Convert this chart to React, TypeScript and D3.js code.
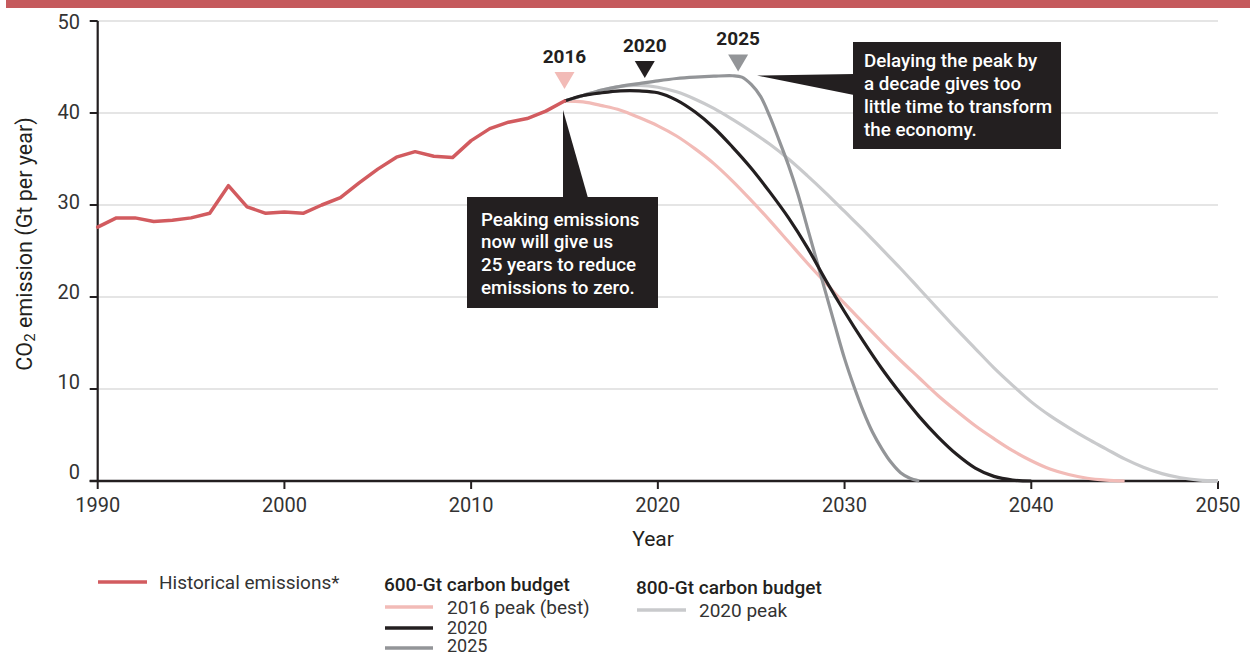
import React from "react";
import * as d3 from "d3";

// ---------- data ----------
const histYears = [1990, 1991, 1992, 1993, 1994, 1995, 1996, 1997, 1998, 1999, 2000, 2001, 2002, 2003, 2004, 2005, 2006, 2007, 2008, 2009, 2010, 2011, 2012, 2013, 2014, 2015];
const histValues = [27.6, 28.6, 28.6, 28.2, 28.35, 28.6, 29.1, 32.1, 29.8, 29.1, 29.25, 29.1, 30.0, 30.8, 32.4, 33.9, 35.2, 35.8, 35.3, 35.15, 37.0, 38.3, 39.0, 39.4, 40.2, 41.3];

const best2016Years = [2015, 2016, 2017, 2018, 2019, 2020, 2021, 2022, 2023, 2024, 2025, 2026, 2027, 2028, 2029, 2030, 2031, 2032, 2033, 2034, 2035, 2036, 2037, 2038, 2039, 2040, 2041, 2042, 2043, 2044, 2045];
const best2016Values = [41.3, 41.2, 40.8, 40.3, 39.5, 38.6, 37.5, 36.1, 34.5, 32.6, 30.5, 28.3, 26.0, 23.7, 21.5, 19.3, 17.2, 15.1, 13.1, 11.2, 9.3, 7.6, 6.0, 4.6, 3.3, 2.2, 1.3, 0.7, 0.3, 0.1, 0.0];

const peak2020Years = [2015, 2016, 2017, 2018, 2019, 2020, 2021, 2022, 2023, 2024, 2025, 2026, 2027, 2028, 2029, 2030, 2031, 2032, 2033, 2034, 2035, 2036, 2037, 2038, 2039, 2040];
const peak2020Values = [41.3, 41.9, 42.2, 42.4, 42.4, 42.2, 41.4, 40.1, 38.4, 36.3, 34.0, 31.4, 28.6, 25.4, 21.8, 18.4, 15.2, 12.2, 9.5, 7.0, 4.8, 2.9, 1.4, 0.5, 0.1, 0.0];

const peak2025Years = [2015, 2016, 2017, 2018, 2019, 2020, 2021, 2022, 2023, 2024, 2024.5, 2025, 2025.5, 2026, 2026.5, 2027, 2027.5, 2028, 2028.5, 2029, 2029.5, 2030, 2030.5, 2031, 2031.5, 2032, 2032.5, 2033, 2033.5, 2034];
const peak2025Values = [41.3, 41.9, 42.5, 42.9, 43.2, 43.5, 43.75, 43.9, 44.0, 44.05, 43.9, 43.1, 41.8, 39.6, 37.0, 34.3, 31.2, 27.6, 24.0, 20.4, 16.8, 13.3, 10.3, 7.6, 5.3, 3.5, 2.0, 0.9, 0.3, 0.0];

const budget800Years = [2015, 2016, 2017, 2018, 2019, 2020, 2021, 2022, 2023, 2024, 2025, 2026, 2027, 2028, 2029, 2030, 2031, 2032, 2033, 2034, 2035, 2036, 2037, 2038, 2039, 2040, 2041, 2042, 2043, 2044, 2045, 2046, 2047, 2048, 2049, 2050];
const budget800Values = [41.3, 41.9, 42.5, 42.9, 43.0, 42.8, 42.3, 41.5, 40.5, 39.3, 38.0, 36.6, 35.0, 33.2, 31.3, 29.3, 27.3, 25.2, 23.1, 20.9, 18.7, 16.5, 14.4, 12.3, 10.4, 8.6, 7.1, 5.8, 4.6, 3.5, 2.4, 1.5, 0.8, 0.35, 0.1, 0.0];

const xTicks = [1990, 2000, 2010, 2020, 2030, 2040, 2050];
const yTicks = [0, 10, 20, 30, 40, 50];

const markerLabels = ["2016", "2020", "2025"];
const markerYears = [2015, 2019.3, 2024.3];
const markerTips = [42.6, 43.8, 44.5];

const note1 = ["Peaking emissions", "now will give us", "25 years to reduce", "emissions to zero."];
const note2 = ["Delaying the peak by", "a decade gives too", "little time to transform", "the economy."];

// ---------- styles ----------
const C_RED = "#d25b5f";
const C_BAR = "#c55a5d";
const C_PINK = "#f2bbb7";
const C_BLACK = "#231f20";
const C_DGRAY = "#939598";
const C_LGRAY = "#c9cacc";
const C_GRID = "#cbcbcb";
const C_TEXT = "#333333";
const FONT = "Roboto, 'Noto Sans', sans-serif";

const W = 1250;
const H = 655;

export default function App() {
  const x = d3.scaleLinear().domain([1990, 2050]).range([97.7, 1218]);
  const y = d3.scaleLinear().domain([0, 50]).range([481, 21]);
  const yLab = d3.scaleLinear().domain([0, 50]).range([472, 22]);

  const zip = (xs: number[], vs: number[]) => xs.map((d, i) => [d, vs[i]] as [number, number]);
  const lineLin = d3.line<[number, number]>().x((d) => x(d[0])).y((d) => y(d[1]));
  const lineSmooth = d3
    .line<[number, number]>()
    .x((d) => x(d[0]))
    .y((d) => y(d[1]))
    .curve(d3.curveCatmullRom.alpha(0.5));

  const series = [
    { data: zip(best2016Years, best2016Values), color: C_PINK },
    { data: zip(budget800Years, budget800Values), color: C_LGRAY },
    { data: zip(peak2025Years, peak2025Values), color: C_DGRAY },
    { data: zip(peak2020Years, peak2020Values), color: C_BLACK },
  ];
  const markerColors = [C_PINK, C_BLACK, C_DGRAY];

  return (
    <svg
      width={W}
      height={H}
      style={{ position: "absolute", left: 0, top: 0, background: "#fff" }}
      fontFamily={FONT}
    >
      <rect x={6} y={0} width={W - 6} height={8} fill={C_BAR} />

      {/* grid */}
      {yTicks.filter((t) => t > 0).map((t) => (
        <line key={"g" + t} x1={x(1990)} x2={x(2050)} y1={y(t)} y2={y(t)} stroke={C_GRID} strokeWidth={1.2} />
      ))}

      {/* y axis */}
      <line x1={x(1990)} x2={x(1990)} y1={y(50)} y2={y(0)} stroke={C_BLACK} strokeWidth={2.2} />
      {yTicks.map((t) => (
        <g key={"y" + t}>
          <line x1={x(1990) - 8} x2={x(1990)} y1={y(t)} y2={y(t)} stroke={C_BLACK} strokeWidth={2} />
          <text x={80} y={yLab(t)} textAnchor="end" dominantBaseline="central" fontSize={20} fill={C_TEXT}>
            {t}
          </text>
        </g>
      ))}

      {/* x axis */}
      <line x1={x(1990) - 8} x2={x(2050)} y1={y(0)} y2={y(0)} stroke={C_BLACK} strokeWidth={2.5} />
      {xTicks.map((t) => (
        <g key={"x" + t}>
          <line x1={x(t)} x2={x(t)} y1={y(0)} y2={y(0) + 8} stroke={C_BLACK} strokeWidth={2} />
          <text x={x(t)} y={505} textAnchor="middle" dominantBaseline="central" fontSize={20} fill={C_TEXT}>
            {t}
          </text>
        </g>
      ))}

      <text x={653} y={539} textAnchor="middle" dominantBaseline="central" fontSize={21} fill={C_BLACK}>
        Year
      </text>
      <text
        transform="translate(24,244) rotate(-90)"
        textAnchor="middle"
        dominantBaseline="central"
        fontSize={21.5}
        fill={C_BLACK}
      >
        CO
        <tspan fontSize={15} dy={6}>2</tspan>
        <tspan dy={-6}> emission (Gt per year)</tspan>
      </text>

      {/* projection lines */}
      {series.map((s, i) => (
        <path key={"s" + i} d={lineSmooth(s.data) || ""} fill="none" stroke={s.color} strokeWidth={3.2} strokeLinejoin="round" />
      ))}
      <path d={lineLin(zip(histYears, histValues)) || ""} fill="none" stroke={C_RED} strokeWidth={3.5} strokeLinejoin="round" strokeLinecap="round" />

      {/* peak markers */}
      {markerLabels.map((lab, i) => {
        const cx = x(markerYears[i]);
        const tip = y(markerTips[i]);
        return (
          <g key={"m" + i}>
            <path d={`M${cx - 10},${tip - 17} L${cx + 10},${tip - 17} L${cx},${tip} Z`} fill={markerColors[i]} />
            <text x={cx} y={tip - 33} textAnchor="middle" dominantBaseline="central" fontSize={19} fontWeight={700} fill={C_BLACK}>
              {lab}
            </text>
          </g>
        );
      })}

      {/* note 1 */}
      <path d="M563,110 L563,198 L588,198 Z" fill={C_BLACK} />
      <rect x={467} y={197} width={191} height={111} fill={C_BLACK} />
      {note1.map((t, i) => (
        <text key={"n1" + i} x={481} y={225.5 + i * 22.9} fontSize={18.8} fontWeight={500} fill="#fff">
          {t}
        </text>
      ))}

      {/* note 2 */}
      <path d="M757,75.5 L854,74 L854,95 Z" fill={C_BLACK} />
      <rect x={853} y={42} width={208} height={107} fill={C_BLACK} />
      {note2.map((t, i) => (
        <text key={"n2" + i} x={864} y={66.5 + i * 23.1} fontSize={18.8} fontWeight={500} fill="#fff">
          {t}
        </text>
      ))}

      {/* legend */}
      <line x1={98} x2={147} y1={582} y2={582} stroke={C_RED} strokeWidth={3.5} />
      <text x={159} y={582} dominantBaseline="central" fontSize={19} fill={C_TEXT}>Historical emissions*</text>

      <text x={384} y={584} dominantBaseline="central" fontSize={19} fontWeight={500} fill={C_BLACK}>600-Gt carbon budget</text>
      <line x1={385} x2={433} y1={607} y2={607} stroke={C_PINK} strokeWidth={3.5} />
      <text x={447} y={607} dominantBaseline="central" fontSize={19} fill={C_TEXT}>2016 peak (best)</text>
      <line x1={385} x2={433} y1={628} y2={628} stroke={C_BLACK} strokeWidth={3.5} />
      <text x={447} y={627} dominantBaseline="central" fontSize={18} fill={C_TEXT}>2020</text>
      <line x1={385} x2={433} y1={648} y2={648} stroke={C_DGRAY} strokeWidth={3.5} />
      <text x={447} y={645.5} dominantBaseline="central" fontSize={18} fill={C_TEXT}>2025</text>

      <text x={636} y={587} dominantBaseline="central" fontSize={19} fontWeight={500} fill={C_BLACK}>800-Gt carbon budget</text>
      <line x1={637} x2={686} y1={610} y2={610} stroke={C_LGRAY} strokeWidth={3.5} />
      <text x={699} y={610} dominantBaseline="central" fontSize={19} fill={C_TEXT}>2020 peak</text>
    </svg>
  );
}
